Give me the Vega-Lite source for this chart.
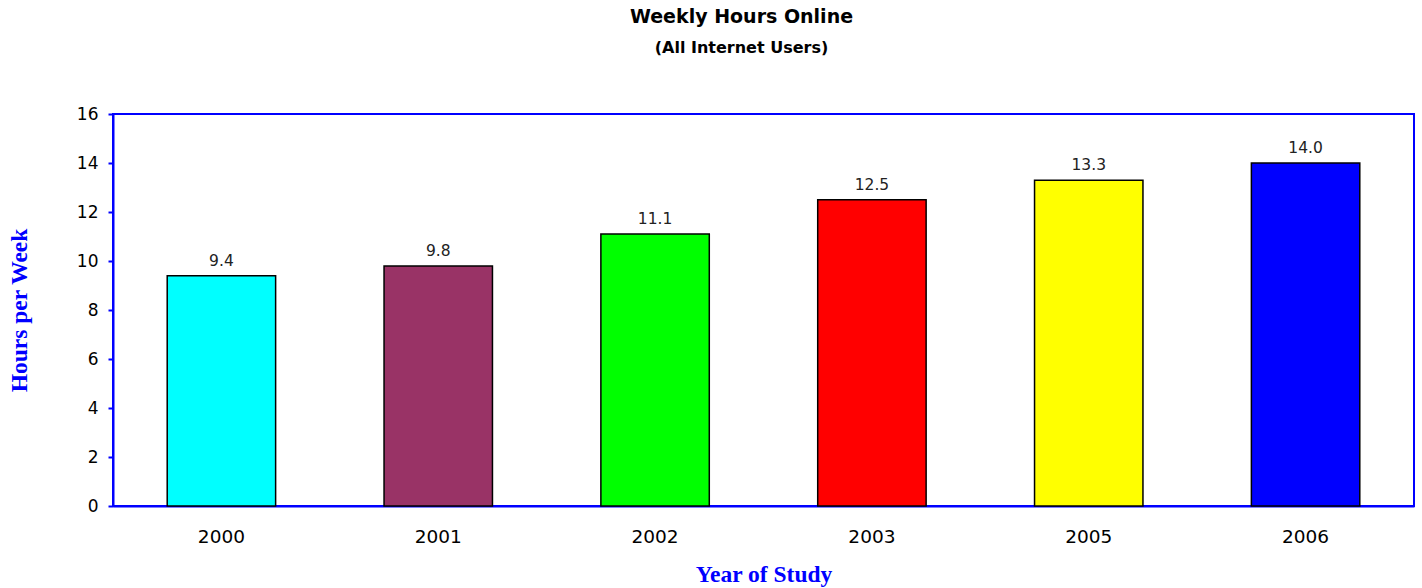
{
  "$schema": "https://vega.github.io/schema/vega-lite/v6.json",
  "width": 1301,
  "height": 392,
  "autosize": {"type": "none"},
  "padding": {"left": 113, "top": 114, "right": 8, "bottom": 82},
  "background": "white",
  "title": {
    "text": "Weekly Hours Online",
    "subtitle": "(All Internet Users)",
    "anchor": "middle",
    "frame": "group",
    "dx": -22,
    "offset": 49,
    "font": "DejaVu Sans",
    "fontSize": 19,
    "fontWeight": "bold",
    "color": "black",
    "subtitleFont": "DejaVu Sans",
    "subtitleFontSize": 16,
    "subtitleFontWeight": "bold",
    "subtitleColor": "black",
    "subtitlePadding": 13
  },
  "config": {
    "view": {"stroke": "#0000FF", "strokeWidth": 2},
    "axis": {"grid": false}
  },
  "data": {
    "values": [
      {"year": "2000", "hours": 9.4},
      {"year": "2001", "hours": 9.8},
      {"year": "2002", "hours": 11.1},
      {"year": "2003", "hours": 12.5},
      {"year": "2005", "hours": 13.3},
      {"year": "2006", "hours": 14.0}
    ]
  },
  "encoding": {
    "x": {
      "field": "year",
      "type": "ordinal",
      "sort": null,
      "scale": {"paddingInner": 0.5, "paddingOuter": 0.25},
      "axis": {
        "title": "Year of Study",
        "titleFont": "Liberation Serif",
        "titleFontSize": 23.5,
        "titleFontWeight": "bold",
        "titleColor": "#0000FF",
        "titlePadding": 17,
        "labelAngle": 0,
        "labelFont": "DejaVu Sans",
        "labelFontSize": 18.5,
        "labelColor": "black",
        "labelPadding": 21,
        "ticks": false,
        "domainColor": "#0000FF",
        "domainWidth": 2
      }
    },
    "y": {
      "field": "hours",
      "type": "quantitative",
      "scale": {"domain": [0, 16], "nice": false},
      "axis": {
        "title": "Hours per Week",
        "titleFont": "Liberation Serif",
        "titleFontSize": 23.5,
        "titleFontWeight": "bold",
        "titleColor": "#0000FF",
        "titlePadding": 45,
        "values": [0, 2, 4, 6, 8, 10, 12, 14, 16],
        "labelFont": "DejaVu Sans",
        "labelFontSize": 17,
        "labelColor": "black",
        "labelPadding": 10,
        "tickColor": "#0000FF",
        "tickSize": 5,
        "tickWidth": 2,
        "domainColor": "#0000FF",
        "domainWidth": 2
      }
    }
  },
  "layer": [
    {
      "mark": {"type": "bar", "stroke": "black", "strokeWidth": 1.5},
      "encoding": {
        "color": {
          "field": "year",
          "type": "nominal",
          "sort": null,
          "scale": {
            "domain": ["2000", "2001", "2002", "2003", "2005", "2006"],
            "range": ["#00FFFF", "#993366", "#00FF00", "#FF0000", "#FFFF00", "#0000FF"]
          },
          "legend": null
        }
      }
    },
    {
      "mark": {
        "type": "text",
        "font": "DejaVu Sans",
        "fontSize": 15.5,
        "color": "#222222",
        "baseline": "alphabetic",
        "dy": -10
      },
      "encoding": {
        "text": {"field": "hours", "type": "quantitative", "format": ".1f"}
      }
    }
  ]
}
